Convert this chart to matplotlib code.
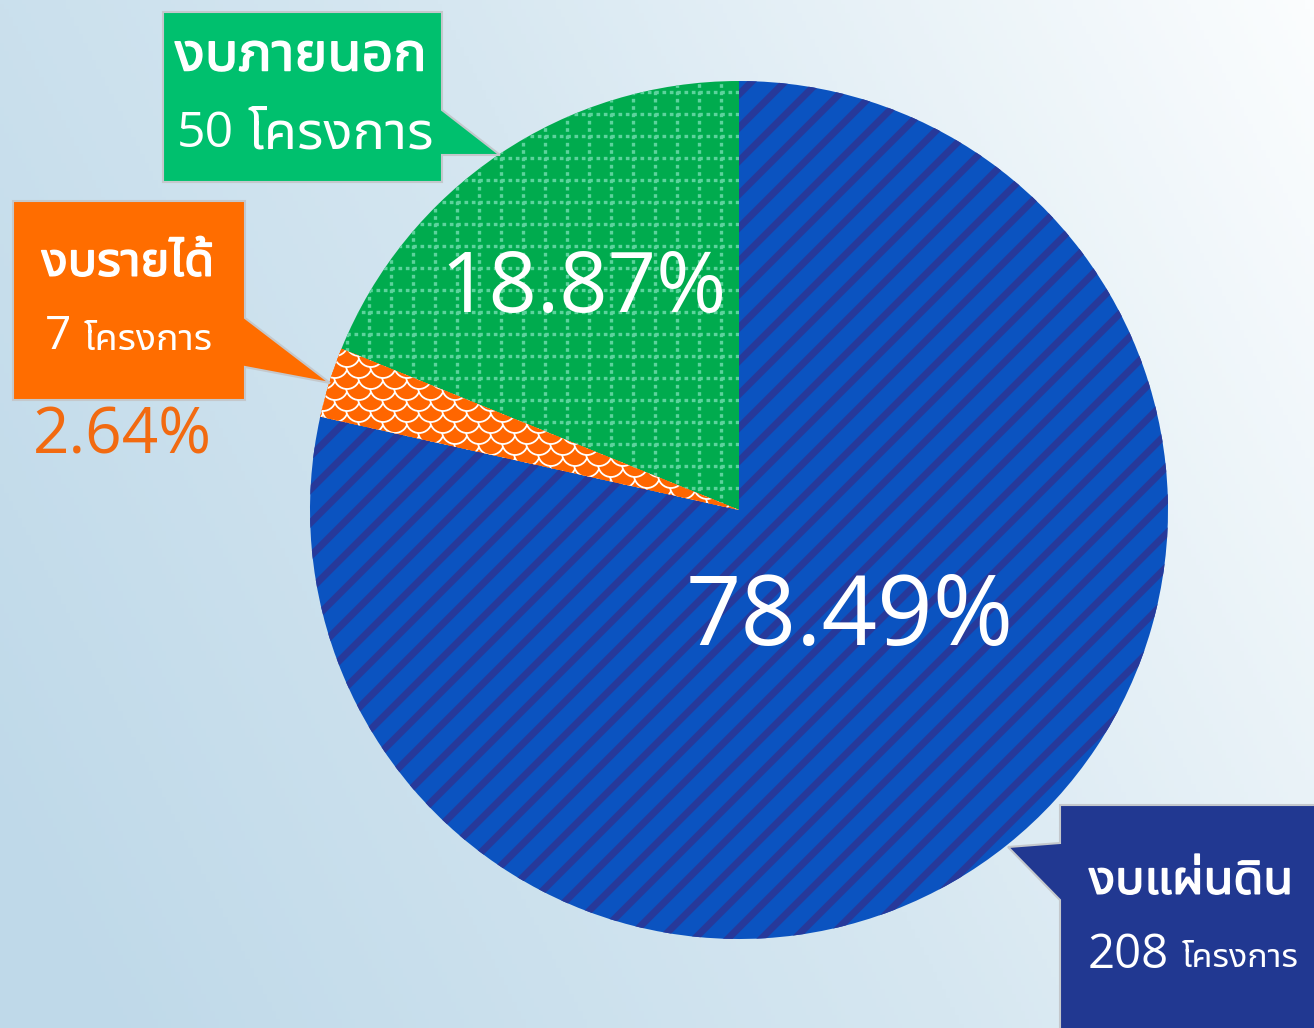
import numpy as np
import matplotlib
matplotlib.use("Agg")
import matplotlib.pyplot as plt
import matplotlib.patheffects as pe
from matplotlib import font_manager
from matplotlib.ft2font import FT2Font
from matplotlib.patches import Polygon, Circle
from matplotlib.colors import LinearSegmentedColormap

# data
categories = ["งบภายนอก", "งบรายได้", "งบแผ่นดิน"]
counts = [50, 7, 208]
unit = "โครงการ"
slice_colors = ["#00ab4e", "#ff6600", "#0b53c0"]
box_colors = ["#00c06e", "#ff6d00", "#213891"]

W, H = 1314, 1028


def find_thai_fonts():
    paths = [f.fname for f in font_manager.fontManager.ttflist]
    paths += font_manager.findSystemFonts()
    found = []
    for p in sorted(set(paths)):
        try:
            cmap = FT2Font(p).get_charmap()
        except Exception:
            continue
        if 0x0E07 in cmap and 0x0E42 in cmap:
            found.append(p)
    return found


fams = []
for p in find_thai_fonts():
    try:
        font_manager.fontManager.addfont(p)
        name = font_manager.FontProperties(fname=p).get_name()
        if name not in fams:
            fams.append(name)
    except Exception:
        pass
thai = "DejaVu Sans"
for pref in ["Noto Sans Thai UI", "Noto Sans Thai", "IBM Plex Sans Thai", "Kanit", "Loma"]:
    if pref in fams:
        thai = pref
        break
plt.rcParams["font.family"] = ["Open Sans", thai, "DejaVu Sans"]
plt.rcParams["hatch.linewidth"] = 5

fig = plt.figure(figsize=(W / 100, H / 100), dpi=100)
ax = fig.add_axes([0, 0, 1, 1])

# background gradient
xx, yy = np.meshgrid(np.linspace(0, 1, 300), np.linspace(0, 1, 240))
t = np.clip(0.75 * xx + 0.3 * (1 - yy) - 0.05, 0, 1)
bg = LinearSegmentedColormap.from_list("bg", ["#bfd9e9", "#d6e7f1", "#fbfdfe"])
ax.imshow(t, cmap=bg, extent=(0, W, 0, H), origin="upper", aspect="auto", zorder=0)

cx, cy, r = 739, H - 510, 429
wedges, _ = ax.pie(counts, colors=slice_colors, startangle=90, counterclock=True,
                   center=(cx, cy), radius=r, frame=True,
                   wedgeprops=dict(linewidth=0))
for w in wedges:
    w.set_zorder(2)

# blue slice: diagonal stripes
wedges[2].set_hatch("/")
wedges[2].set_edgecolor("#27399a")
wedges[2].set_linewidth(0)

# green slice: dotted grid
for gx in np.arange(cx - 18, cx - r, -22):
    ln, = ax.plot([gx, gx], [cy - 10, cy + r], color="#5cd39c", lw=2.4,
                  ls=(0, (1.1, 1.1)), zorder=3)
    ln.set_clip_path(wedges[0])
for gy in np.arange(cy + 22, cy + r, 22):
    ln, = ax.plot([cx - r, cx], [gy, gy], color="#5cd39c", lw=2.4,
                  ls=(0, (1.1, 1.1)), zorder=3)
    ln.set_clip_path(wedges[0])

# orange slice: fish-scale pattern
for j, sy in enumerate(np.arange(cy - 20, cy + 200, 11)):
    off = 12 if j % 2 else 0
    for sx in np.arange(cx - 440 + off, cx + 20, 24):
        c = Circle((sx, sy), 13, facecolor=slice_colors[1], edgecolor="white",
                   linewidth=1.3, zorder=3)
        ax.add_patch(c)
        c.set_clip_path(wedges[1])

total = sum(counts)
pcts = [f"{100 * c / total:.2f}%" for c in counts]

ax.text(583, H - 290, pcts[0], color="white", fontsize=61, ha="center", va="center", zorder=5)
ax.text(850, H - 620, pcts[2], color="white", fontsize=70, ha="center", va="center", zorder=5)
ax.text(122, H - 437, pcts[1], color="#f26a10", fontsize=46, ha="center", va="center", zorder=5)


def callout(pts, color):
    poly = Polygon([(x, H - y) for x, y in pts], closed=True, facecolor=color,
                   edgecolor="#c4c8cc", linewidth=1.5, zorder=4)
    ax.add_patch(poly)


callout([(163, 12), (442, 12), (442, 110), (500, 155), (442, 155), (442, 182), (163, 182)], box_colors[0])
callout([(13, 201), (245, 201), (245, 318), (330, 383), (245, 367), (245, 400), (13, 400)], box_colors[1])
callout([(1060, 805), (1320, 805), (1320, 1035), (1060, 1035), (1060, 900), (1008, 847), (1060, 843)], box_colors[2])

bold = [pe.withStroke(linewidth=1.1, foreground="white")]

# green box text
ax.text(301, H - 56, categories[0], color="white", fontsize=40,
        ha="center", va="center", zorder=6, path_effects=bold)
ax.text(234, H - 134, f"{counts[0]}", color="white", fontsize=36,
        ha="right", va="center", zorder=6)
ax.text(248, H - 134, unit, color="white", fontsize=39,
        ha="left", va="center", zorder=6)

# orange box text
ax.text(128, H - 263, categories[1], color="white", fontsize=35,
        ha="center", va="center", zorder=6, path_effects=bold)
ax.text(71, H - 337, f"{counts[1]}", color="white", fontsize=33,
        ha="right", va="center", zorder=6)
ax.text(84, H - 340, unit, color="white", fontsize=27,
        ha="left", va="center", zorder=6)

# blue box text
ax.text(1191, H - 881, categories[2], color="white", fontsize=35,
        ha="center", va="center", zorder=6, path_effects=bold)
ax.text(1169, H - 955, f"{counts[2]}", color="white", fontsize=34,
        ha="right", va="center", zorder=6)
ax.text(1182, H - 958, unit, color="white", fontsize=24.5,
        ha="left", va="center", zorder=6)

ax.set_xlim(0, W)
ax.set_ylim(0, H)
ax.set_aspect("auto")
ax.axis("off")
fig.savefig("out.png", dpi=100)
